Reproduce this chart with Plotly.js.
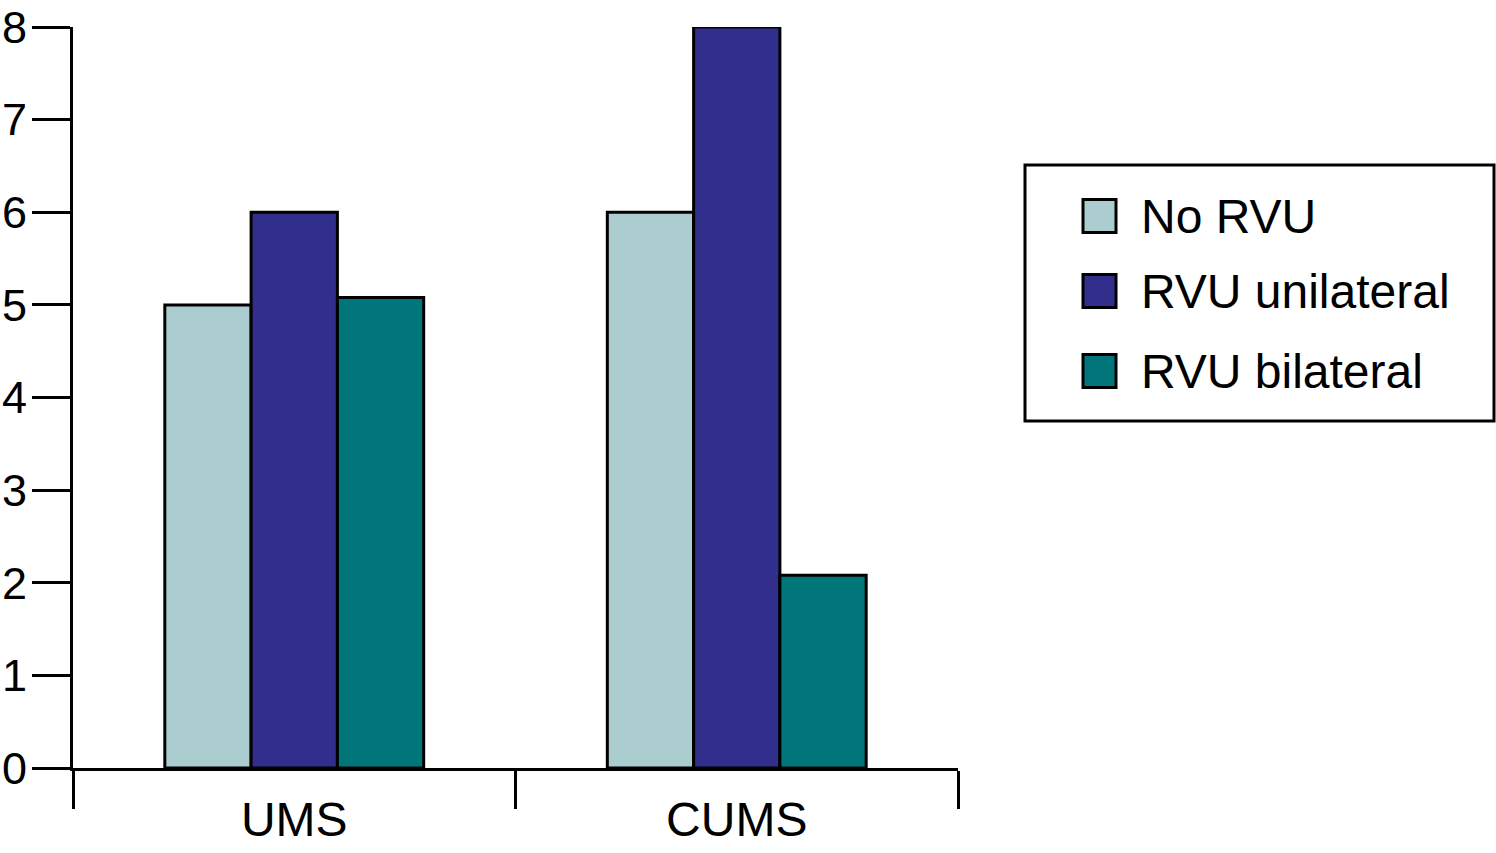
<!DOCTYPE html>
<html>
<head>
<meta charset="utf-8">
<script src="https://cdn.plot.ly/plotly-3.0.1.min.js"></script>
<style>html,body{margin:0;padding:0;background:#fff;}#chart{width:1496px;height:853px;}</style>
</head>
<body>
<div id="chart"></div>
<script>
const categories = ["UMS", "CUMS"];
const seriesNames = ["No RVU", "RVU unilateral", "RVU bilateral"];
const noRVU = [5, 6];
const rvuUnilateral = [6, 8];
const rvuBilateral = [5.08, 2.08];
const seriesColors = ["#abcdd0", "#322e8c", "#00767a"];
const yTicks = [0, 1, 2, 3, 4, 5, 6, 7, 8];

const seriesValues = [noRVU, rvuUnilateral, rvuBilateral];
const FONT = "Liberation Sans, Arial, Helvetica, sans-serif";

const traces = seriesValues.map((vals, i) => ({
  type: "bar",
  x: categories,
  y: vals,
  name: seriesNames[i],
  marker: {color: seriesColors[i], line: {color: "#000", width: 3}},
  hoverinfo: "x+y+name",
  showlegend: false
}));

// legend drawn with pixel-sized shapes anchored to the right/top of the plot area
const shapes = [{
  type: "rect", xref: "paper", yref: "paper",
  xsizemode: "pixel", ysizemode: "pixel", xanchor: 1, yanchor: 1,
  x0: 67, x1: 536, y0: -138, y1: -394,
  line: {color: "#000", width: 3}, fillcolor: "#fff"
}];
const annotations = [];
const rowCenters = [216, 291, 371];
seriesNames.forEach((n, i) => {
  const cy = 27 - rowCenters[i];
  shapes.push({
    type: "rect", xref: "paper", yref: "paper",
    xsizemode: "pixel", ysizemode: "pixel", xanchor: 1, yanchor: 1,
    x0: 125, x1: 158, y0: cy - 16.5, y1: cy + 16.5,
    line: {color: "#000", width: 3}, fillcolor: seriesColors[i]
  });
  annotations.push({
    xref: "paper", yref: "paper", x: 1, y: 1,
    xshift: 181, yshift: cy,
    xanchor: "left", yanchor: "middle",
    text: n, showarrow: false,
    font: {family: FONT, size: 48, color: "#000"}
  });
});

const layout = {
  width: 1496, height: 853,
  margin: {l: 73, r: 538, t: 27, b: 85, pad: 0},
  paper_bgcolor: "#fff", plot_bgcolor: "#fff",
  barmode: "group", bargap: 0.415, bargroupgap: 0,
  showlegend: false,
  font: {family: FONT, color: "#000"},
  xaxis: {
    type: "category", range: [-0.5, 1.5],
    showline: true, linecolor: "#000", linewidth: 3,
    ticks: "outside", tickson: "boundaries", ticklen: 38, tickwidth: 3, tickcolor: "#000",
    ticklabelstandoff: 7,
    tickfont: {family: FONT, size: 48, color: "#000"},
    showgrid: false, zeroline: false, fixedrange: true
  },
  yaxis: {
    range: [0, 8], tickvals: yTicks, ticktext: yTicks.map(String),
    showline: true, linecolor: "#000", linewidth: 3,
    ticks: "outside", ticklen: 38, tickwidth: 3, tickcolor: "#000",
    ticklabelstandoff: -4,
    tickfont: {family: FONT, size: 45, color: "#000"},
    showgrid: false, zeroline: false, fixedrange: true
  },
  shapes: shapes,
  annotations: annotations
};

Plotly.newPlot("chart", traces, layout, {displayModeBar: false, staticPlot: false});
</script>
</body>
</html>
